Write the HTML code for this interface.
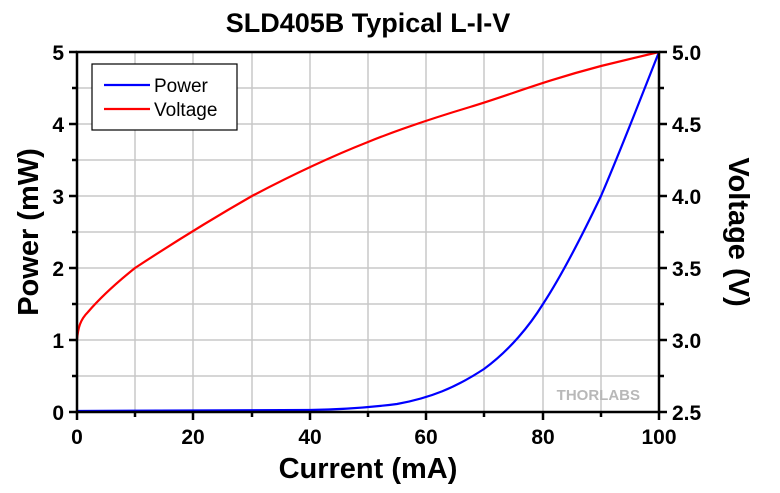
<!DOCTYPE html>
<html><head><style>
body{margin:0;background:#fff;}
text{font-family:"Liberation Sans",Arial,sans-serif;}
</style></head><body>
<svg width="780" height="488" viewBox="0 0 780 488" xmlns="http://www.w3.org/2000/svg">
<rect width="780" height="488" fill="#fff"/>
<text x="368" y="32" font-size="27" font-weight="bold" text-anchor="middle">SLD405B Typical L-I-V</text>
<g stroke="#c8c8c8" stroke-width="1.5">
<line x1="135" y1="52" x2="135" y2="412"/><line x1="193" y1="52" x2="193" y2="412"/>
<line x1="252" y1="52" x2="252" y2="412"/><line x1="310" y1="52" x2="310" y2="412"/>
<line x1="368" y1="52" x2="368" y2="412"/><line x1="426" y1="52" x2="426" y2="412"/>
<line x1="484" y1="52" x2="484" y2="412"/><line x1="543" y1="52" x2="543" y2="412"/>
<line x1="601" y1="52" x2="601" y2="412"/>
<line x1="77" y1="88" x2="659" y2="88"/><line x1="77" y1="124" x2="659" y2="124"/>
<line x1="77" y1="160" x2="659" y2="160"/><line x1="77" y1="196" x2="659" y2="196"/>
<line x1="77" y1="232" x2="659" y2="232"/><line x1="77" y1="268" x2="659" y2="268"/>
<line x1="77" y1="304" x2="659" y2="304"/><line x1="77" y1="340" x2="659" y2="340"/>
<line x1="77" y1="376" x2="659" y2="376"/>
</g>
<text x="640" y="400" font-size="15" font-weight="bold" fill="#b8b8b8" text-anchor="end">THORLABS</text>
<path fill="none" stroke="#0000ff" stroke-width="2.2" d="M77,411 L310,410 C340,409.5 365,408 397,404 C430,398 455,388 484,369 C510,350 530,325 543,304 C560,278 580,240 601,196 C620,152 640,100 659,52"/>
<path fill="none" stroke="#ff0000" stroke-width="2.2" d="M77,340 C78,328 80,320 88,312 C100,298 115,284 135,268 C170,245 210,220 252,196 C290,176 330,157 368,142 C400,129 430,119 470,107 C510,95 540,82 601,66 L659,52"/>
<rect x="77" y="52" width="582" height="360" fill="none" stroke="#000" stroke-width="2.5"/>
<g stroke="#000" stroke-width="2.5">
<line x1="69" y1="52" x2="77" y2="52"/><line x1="69" y1="124" x2="77" y2="124"/><line x1="69" y1="196" x2="77" y2="196"/>
<line x1="69" y1="268" x2="77" y2="268"/><line x1="69" y1="340" x2="77" y2="340"/><line x1="69" y1="412" x2="77" y2="412"/>
<line x1="72" y1="88" x2="77" y2="88"/><line x1="72" y1="160" x2="77" y2="160"/><line x1="72" y1="232" x2="77" y2="232"/>
<line x1="72" y1="304" x2="77" y2="304"/><line x1="72" y1="376" x2="77" y2="376"/>
<line x1="659" y1="52" x2="667" y2="52"/><line x1="659" y1="124" x2="667" y2="124"/><line x1="659" y1="196" x2="667" y2="196"/>
<line x1="659" y1="268" x2="667" y2="268"/><line x1="659" y1="340" x2="667" y2="340"/><line x1="659" y1="412" x2="667" y2="412"/>
<line x1="659" y1="88" x2="664" y2="88"/><line x1="659" y1="160" x2="664" y2="160"/><line x1="659" y1="232" x2="664" y2="232"/>
<line x1="659" y1="304" x2="664" y2="304"/><line x1="659" y1="376" x2="664" y2="376"/>
<line x1="77" y1="412" x2="77" y2="420"/><line x1="193" y1="412" x2="193" y2="420"/><line x1="310" y1="412" x2="310" y2="420"/>
<line x1="426" y1="412" x2="426" y2="420"/><line x1="543" y1="412" x2="543" y2="420"/><line x1="659" y1="412" x2="659" y2="420"/>
<line x1="135" y1="412" x2="135" y2="417"/><line x1="252" y1="412" x2="252" y2="417"/><line x1="368" y1="412" x2="368" y2="417"/>
<line x1="484" y1="412" x2="484" y2="417"/><line x1="601" y1="412" x2="601" y2="417"/>
</g>
<g font-size="21" font-weight="bold" text-anchor="end">
<text x="64" y="60">5</text><text x="64" y="132">4</text><text x="64" y="204">3</text>
<text x="64" y="276">2</text><text x="64" y="348">1</text><text x="64" y="420">0</text>
</g>
<g font-size="21" font-weight="bold">
<text x="672" y="60">5.0</text><text x="672" y="132">4.5</text><text x="672" y="204">4.0</text>
<text x="672" y="276">3.5</text><text x="672" y="348">3.0</text><text x="672" y="420">2.5</text>
</g>
<g font-size="21" font-weight="bold" text-anchor="middle">
<text x="77" y="444">0</text><text x="193" y="444">20</text><text x="310" y="444">40</text>
<text x="426" y="444">60</text><text x="543" y="444">80</text><text x="659" y="444">100</text>
</g>
<text x="368" y="478" font-size="29" font-weight="bold" text-anchor="middle">Current (mA)</text>
<text transform="translate(38,232) rotate(-90)" font-size="29" font-weight="bold" text-anchor="middle">Power (mW)</text>
<text transform="translate(729,232) rotate(90)" font-size="29" font-weight="bold" text-anchor="middle">Voltage (V)</text>
<rect x="92" y="64" width="145" height="66" fill="#fff" stroke="#000" stroke-width="1.2"/>
<line x1="104" y1="85" x2="150" y2="85" stroke="#0000ff" stroke-width="2.2"/>
<line x1="104" y1="109" x2="150" y2="109" stroke="#ff0000" stroke-width="2.2"/>
<text x="154" y="92" font-size="19">Power</text>
<text x="154" y="116" font-size="19">Voltage</text>
</svg>
</body></html>
